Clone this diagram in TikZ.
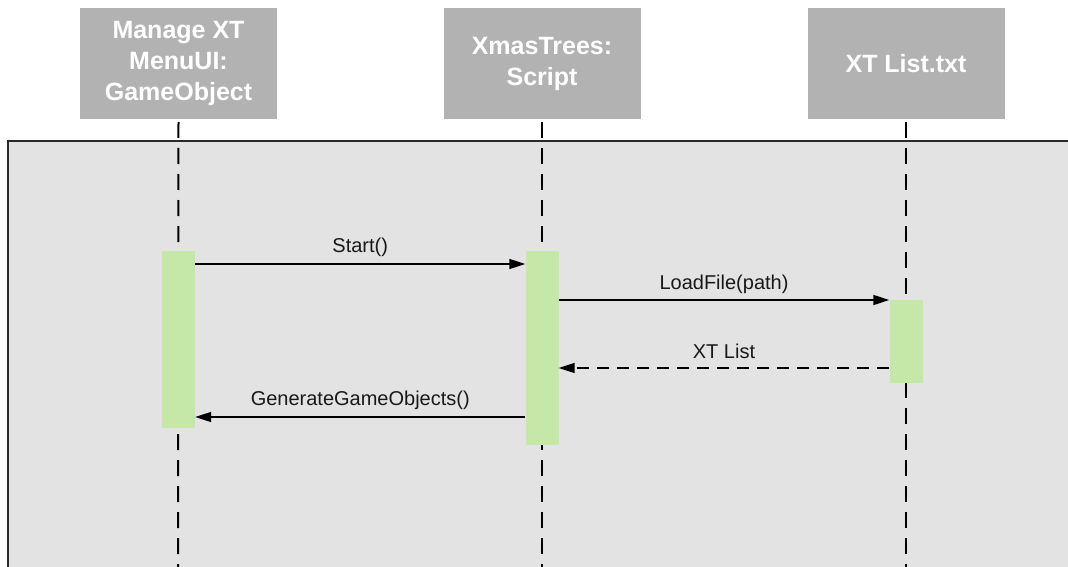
\documentclass[tikz,border=0pt]{standalone}
\usepackage{fontspec}
\setmainfont{Liberation Sans}
\usetikzlibrary{arrows.meta}

\definecolor{headgray}{HTML}{B2B2B2}
\definecolor{framegray}{HTML}{E3E3E3}
\definecolor{actgreen}{HTML}{C5E7A8}
\definecolor{edgedark}{HTML}{2A2A2A}

\tikzset{
  header/.style={fill=headgray, draw=none, minimum width=197, minimum height=111,
    inner sep=0pt, align=center, text=white,
    font=\fontsize{25}{31}\selectfont\bfseries},
  lifeline/.style={draw=black, line width=2pt, dash pattern=on 16pt off 10pt},
  activation/.style={fill=actgreen, draw=none, minimum width=33, inner sep=0pt},
  call/.style={draw=black, line width=1.5pt, -{Triangle[length=16pt, width=10pt]}},
  reply/.style={call, dash pattern=on 12pt off 8pt},
  msg/.style={font=\fontsize{20}{22}\selectfont, inner sep=0pt, text=black!90}
}

\begin{document}
\begin{tikzpicture}[x=1pt, y=-1pt]
  \clip (0,0) rectangle (1068,567);
  \fill[white] (0,0) rectangle (1068,567);

  % enclosing frame
  \draw[fill=framegray, draw=edgedark, line width=2pt] (8,141) rectangle (1100,600);

  % participants
  \node[header] (ui)  at (178.5,63.5) {Manage XT\\MenuUI:\\GameObject};
  \node[header] (xs)  at (542,63.5)   {XmasTrees:\\Script};
  \node[header] (txt) at (906,63.5)   {XT List.txt};

  % lifelines
  \coordinate (uiEnd)  at (178,590);
  \coordinate (xsEnd)  at (542,590);
  \coordinate (txtEnd) at (906,590);
  \draw[lifeline] (ui.south |- 0,122)  -- (uiEnd);
  \draw[lifeline] (xs.south |- 0,122)  -- (xsEnd);
  \draw[lifeline] (txt.south |- 0,122) -- (txtEnd);

  % activation bars
  \node[activation, minimum height=177, anchor=north] (aui)  at (178.5,251) {};
  \node[activation, minimum height=194, anchor=north] (axs)  at (542,251)   {};
  \node[activation, minimum height=83,  anchor=north] (atxt) at (906,300)   {};

  % messages
  \draw[call]  (aui.east |- 0,264)  -- node[msg, yshift=17pt] (m1) {Start()} (axs.west |- 0,264);
  \draw[call]  (axs.east |- 0,300)  -- node[msg, yshift=16pt] (m2) {LoadFile(path)} (atxt.west |- 0,300);
  \draw[reply] (atxt.west |- 0,368) -- node[msg, yshift=17pt] (m3) {XT List} (axs.east |- 0,368);
  \draw[call]  (axs.west |- 0,417)  -- node[msg, yshift=17pt] (m4) {GenerateGameObjects()} (aui.east |- 0,417);
\end{tikzpicture}
\end{document}
